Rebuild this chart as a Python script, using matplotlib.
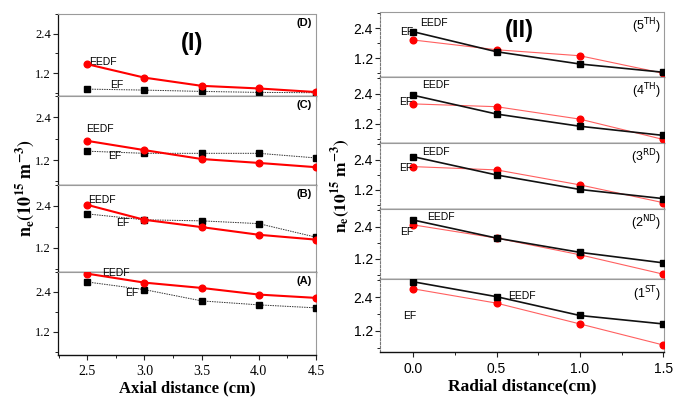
import matplotlib
matplotlib.use("Agg")
import matplotlib.pyplot as plt
from matplotlib.ticker import MultipleLocator, FixedLocator

# ---- axial profiles (panel I), n_e in 1e15 m^-3 ----
axial = [2.5, 3.0, 3.5, 4.0, 4.5]
eedf_D = [1.47, 1.06, 0.81, 0.73, 0.62]
ef_D = [0.71, 0.68, 0.64, 0.61, 0.60]
eedf_C = [1.74, 1.48, 1.23, 1.12, 1.00]
ef_C = [1.45, 1.39, 1.39, 1.39, 1.26]
eedf_B = [2.43, 2.00, 1.79, 1.57, 1.43]
ef_B = [2.17, 2.00, 1.97, 1.89, 1.50]
eedf_A = [2.95, 2.68, 2.52, 2.32, 2.22]
ef_A = [2.70, 2.47, 2.13, 2.01, 1.92]
axial_tags = ["(D)", "(C)", "(B)", "(A)"]

# ---- radial profiles (panel II) ----
radial = [0.0, 0.5, 1.0, 1.5]
eedf_5 = [2.26, 1.46, 0.97, 0.64]
ef_5 = [1.93, 1.54, 1.30, 0.60]
eedf_4 = [2.33, 1.59, 1.11, 0.75]
ef_4 = [1.99, 1.88, 1.39, 0.59]
eedf_3 = [2.51, 1.79, 1.22, 0.86]
ef_3 = [2.12, 1.99, 1.40, 0.70]
eedf_2 = [2.64, 1.97, 1.44, 1.05]
ef_2 = [2.46, 1.97, 1.35, 0.63]
eedf_1 = [2.95, 2.42, 1.75, 1.45]
ef_1 = [2.70, 2.19, 1.45, 0.70]
radial_tags = ["5", "4", "3", "2", "1"]
radial_sup = ["TH", "TH", "RD", "ND", "ST"]

ytick_vals = [1.2, 2.4]
axial_ticks = [2.5, 3.0, 3.5, 4.0, 4.5]
radial_ticks = [0.0, 0.5, 1.0, 1.5]

W, H = 683, 401
fig = plt.figure(figsize=(W / 100, H / 100), dpi=100)

def px_axes(x0, x1, y0, y1):
    return fig.add_axes([x0 / W, 1 - y1 / H, (x1 - x0) / W, (y1 - y0) / H])

def style_axes(ax, serif, left_style):
    ax.set_facecolor("white")
    for side in ("top", "right"):
        ax.spines[side].set_color("#9a9a9a")
        ax.spines[side].set_linestyle((0, (1, 1)))
        ax.spines[side].set_linewidth(0.8)
    ax.spines["bottom"].set_color("#111111")
    ax.spines["bottom"].set_linewidth(1.0)
    if left_style == "solid":
        ax.spines["left"].set_color("#111111")
        ax.spines["left"].set_linewidth(0.9)
    else:
        ax.spines["left"].set_color("#777777")
        ax.spines["left"].set_linestyle((0, (2, 1.5)))
        ax.spines["left"].set_linewidth(0.8)
    ax.yaxis.set_major_locator(FixedLocator(ytick_vals))
    ax.yaxis.set_minor_locator(FixedLocator([0.6, 1.8, 3.0]))
    ax.tick_params(axis="both", which="major", direction="out", length=3.5,
                   width=0.8, color="#222222")
    ax.tick_params(axis="both", which="minor", direction="out", length=2,
                   width=0.7, color="#222222")
    fam = "Liberation Serif" if serif else "Liberation Sans"
    size = 9 if serif else 10
    for lab in ax.get_yticklabels():
        lab.set_fontfamily(fam)
        lab.set_fontsize(size)
    ax.tick_params(axis="y", pad=1.5)

# ---------------- panel I ----------------
left_bounds = [14, 96, 185, 272, 355]
axial_eedf = [eedf_D, eedf_C, eedf_B, eedf_A]
axial_ef = [ef_D, ef_C, ef_B, ef_A]
axial_eedf_lbl = [(2.52, 1.54), (2.49, 2.07), (2.51, 2.56), (2.63, 2.96)]
axial_ef_lbl = [(2.70, 0.83), (2.68, 1.31), (2.75, 1.91), (2.83, 2.37)]
left_axes = []
for i in range(4):
    ax = px_axes(58, 316, left_bounds[i], left_bounds[i + 1])
    ax.plot(axial, axial_ef[i], color="#333333", lw=0.7, ls=(0, (1.5, 1)),
            marker="s", ms=3.8, mfc="black", mec="black", zorder=3)
    ax.plot(axial, axial_eedf[i], color="#ff0000", lw=1.5,
            marker="o", ms=4.8, mfc="#ff0000", mec="#ff0000", zorder=4)
    ax.set_xlim(2.245, 4.5)
    ax.set_ylim(0.5, 3.0)
    ax.xaxis.set_major_locator(FixedLocator(axial_ticks))
    ax.xaxis.set_minor_locator(MultipleLocator(0.25))
    style_axes(ax, serif=True, left_style="solid")
    if i < 3:
        ax.tick_params(axis="x", labelbottom=False)
    else:
        ax.set_xticklabels([f"{v:.1f}" for v in axial_ticks],
                           fontfamily="Liberation Serif", fontsize=10)
    ax.text(0.985, 0.95, axial_tags[i], transform=ax.transAxes, ha="right",
            va="top", fontsize=8, fontweight="bold", fontfamily="Liberation Sans")
    ax.text(*axial_eedf_lbl[i], "EEDF", fontsize=7.5, fontfamily="Liberation Sans",
            ha="left", va="center")
    ax.text(*axial_ef_lbl[i], "EF", fontsize=7.5, fontfamily="Liberation Sans",
            ha="left", va="center")
    left_axes.append(ax)

left_axes[0].text(0.52, 0.64, "(I)", transform=left_axes[0].transAxes, ha="center",
                  va="center", fontsize=17, fontweight="bold",
                  fontfamily="Liberation Sans")
left_axes[-1].set_xlabel("Axial distance (cm)", fontfamily="Liberation Serif",
                         fontweight="bold", fontsize=12, labelpad=2)

# ---------------- panel II ----------------
right_bounds = [12, 77, 143, 209, 279, 352]
radial_eedf = [eedf_5, eedf_4, eedf_3, eedf_2, eedf_1]
radial_ef = [ef_5, ef_4, ef_3, ef_2, ef_1]
radial_eedf_lbl = [(0.04, 2.62), (0.05, 2.72), (0.05, 2.68), (0.08, 2.76), (0.57, 2.46)]
radial_ef_lbl = [(-0.08, 2.24), (-0.086, 2.07), (-0.086, 2.07), (-0.08, 2.21), (-0.06, 1.72)]
right_axes = []
for i in range(5):
    ax = px_axes(380, 664, right_bounds[i], right_bounds[i + 1])
    ax.plot(radial, radial_ef[i], color="#ff6060", lw=0.8,
            marker="o", ms=4.8, mfc="#ff0000", mec="#ff0000", zorder=3)
    ax.plot(radial, radial_eedf[i], color="#111111", lw=1.2,
            marker="s", ms=3.8, mfc="black", mec="black", zorder=4)
    ax.set_xlim(-0.2, 1.505)
    ax.set_ylim(0.45, 3.05)
    ax.xaxis.set_major_locator(FixedLocator(radial_ticks))
    ax.xaxis.set_minor_locator(MultipleLocator(0.25))
    style_axes(ax, serif=False, left_style="dashed")
    if i < 4:
        ax.tick_params(axis="x", labelbottom=False)
    else:
        ax.set_xticklabels([f"{v:.1f}" for v in radial_ticks],
                           fontfamily="Liberation Sans", fontsize=10)
    ax.text(0.99, 0.93, "(" + radial_tags[i] + r"$^{\mathrm{" + radial_sup[i] + "}}$)",
            transform=ax.transAxes, ha="right", va="top", fontsize=9,
            fontfamily="Liberation Sans", math_fontfamily="dejavusans")
    ax.text(*radial_eedf_lbl[i], "EEDF", fontsize=7.5, fontfamily="Liberation Sans",
            ha="left", va="center")
    ax.text(*radial_ef_lbl[i], "EF", fontsize=7.5, fontfamily="Liberation Sans",
            ha="left", va="center")
    right_axes.append(ax)

right_axes[0].text(0.49, 0.72, "(II)", transform=right_axes[0].transAxes, ha="center",
                   va="center", fontsize=17, fontweight="bold",
                   fontfamily="Liberation Sans")
right_axes[-1].set_xlabel("Radial distance(cm)", fontfamily="Liberation Serif",
                          fontweight="bold", fontsize=12.5, labelpad=2)

ylab = r"$\mathbf{n_e(10^{15}\ m^{-3})}$"
fig.text(25 / W, 1 - 188 / H, ylab, rotation=90, ha="center", va="center",
         fontsize=13, math_fontfamily="stix")
fig.text(341 / W, 1 - 186 / H, ylab, rotation=90, ha="center", va="center",
         fontsize=12.5, math_fontfamily="stix")

fig.savefig("out.png", dpi=100, facecolor="white")
